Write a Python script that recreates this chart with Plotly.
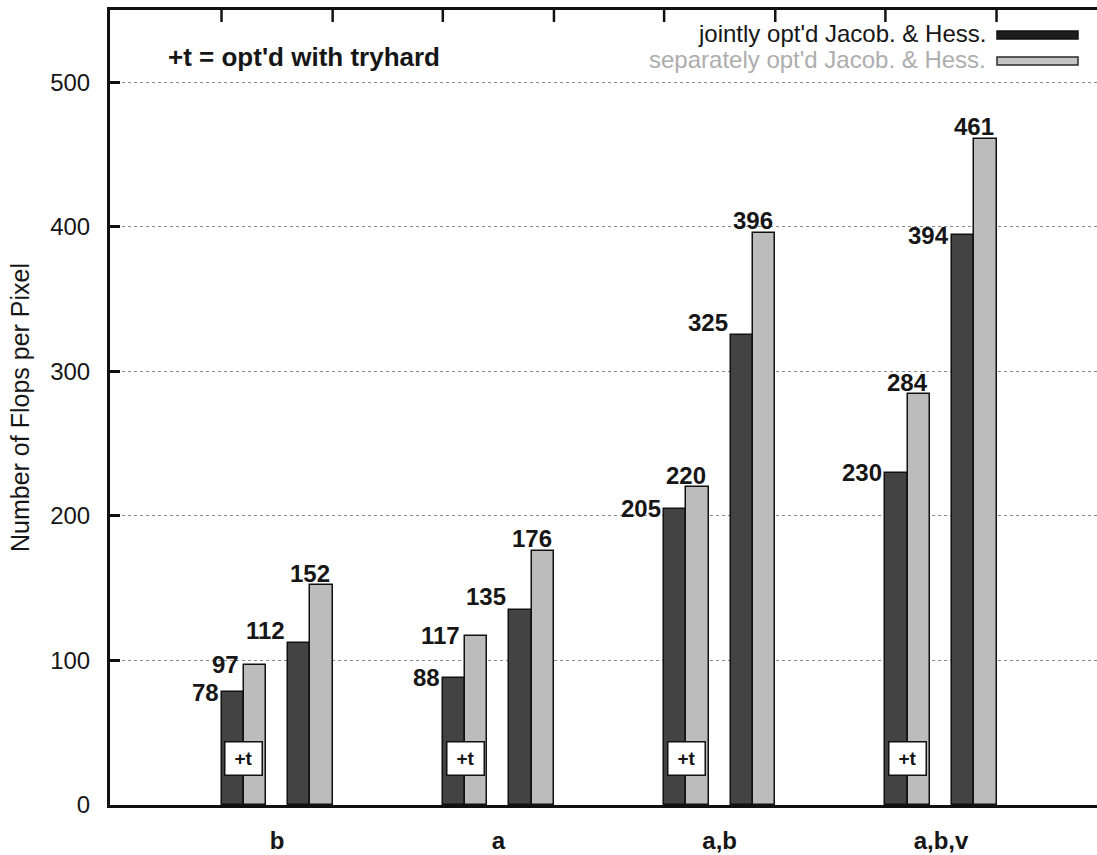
import plotly.graph_objects as go

# ---------------- data ----------------
categories = ["b", "a", "a,b", "a,b,v"]
joint_tryhard = [78, 88, 205, 230]
separate_tryhard = [97, 117, 220, 284]
joint_plain = [112, 135, 325, 394]
separate_plain = [152, 176, 396, 461]
y_ticks = [0, 100, 200, 300, 400, 500]

series_names = ["jointly opt'd Jacob. & Hess.", "separately opt'd Jacob. & Hess."]
tryhard_tag = "+t"
note_text = "+t = opt'd with tryhard"
y_title = "Number of Flops per Pixel"

# ---------------- layout / style ----------------
W, H = 1097, 855
ML, MR, MT, MB = 110, 0, 10, 50
XR = [-0.755, 3.705]
YR = [0, 550]
PAIR_OFF = 0.1503     # pair centre offset from group centre
BW = 0.1008           # bar width
DARK = "#434343"
LIGHT = "#bcbcbc"
FONT = "Liberation Sans, Arial, Helvetica, sans-serif"
TXT = "#161616"

# label placement codes: L = left of bar edge, U = centred on edge above top
dark_t_place = ["L", "L", "L", "L"]
light_t_place = ["L", "L", "U", "U"]
dark_p_place = ["LU", "LU", "LU", "L"]
light_p_place = ["U", "U", "U", "U"]

idx = list(range(len(categories)))

fig = go.Figure()

def add_bars(vals, offset, color, name):
    fig.add_trace(go.Bar(
        x=[i + offset for i in idx], y=vals, width=BW, name=name,
        marker=dict(color=color, line=dict(color="#111111", width=1.5)),
        showlegend=False, hoverinfo="y"))

add_bars(joint_tryhard, -PAIR_OFF - BW / 2, DARK, series_names[0])
add_bars(separate_tryhard, -PAIR_OFF + BW / 2, LIGHT, series_names[1])
add_bars(joint_plain, PAIR_OFF - BW / 2, DARK, series_names[0])
add_bars(separate_plain, PAIR_OFF + BW / 2, LIGHT, series_names[1])

annots = []
lab_font = dict(family=FONT, size=24, color=TXT)

def dark_label(vals, pair_c, places):
    for i, v, p in zip(idx, vals, places):
        annots.append(dict(x=i + pair_c - BW, y=v, xref="x", yref="y", text=f"<b>{v}</b>",
                           showarrow=False, xanchor="right", yanchor="middle",
                           xshift=-1, yshift=(13 if p == "LU" else 0), font=lab_font))

def light_label(vals, pair_c, places):
    for i, v, p in zip(idx, vals, places):
        if p == "U":
            annots.append(dict(x=i + pair_c, y=v, xref="x", yref="y", text=f"<b>{v}</b>",
                               showarrow=False, xanchor="center", yanchor="middle",
                               yshift=12, font=lab_font))
        else:
            annots.append(dict(x=i + pair_c, y=v, xref="x", yref="y", text=f"<b>{v}</b>",
                               showarrow=False, xanchor="right", yanchor="middle",
                               xshift=-3, font=lab_font))

dark_label(joint_tryhard, -PAIR_OFF, dark_t_place)
light_label(separate_tryhard, -PAIR_OFF, light_t_place)
dark_label(joint_plain, PAIR_OFF, dark_p_place)
light_label(separate_plain, PAIR_OFF, light_p_place)

# "+t" boxes
for i in idx:
    annots.append(dict(x=i - PAIR_OFF, y=0, xref="x", yref="y", text=f"<b>{tryhard_tag}</b>",
                       showarrow=False, xanchor="center", yanchor="bottom", yshift=29,
                       width=26, height=22, borderpad=5, bgcolor="white",
                       bordercolor="#111111", borderwidth=1.5,
                       font=dict(family=FONT, size=19, color=TXT)))

def px(xp):
    return (xp - ML) / (W - ML - MR)

def py(yp):
    return (H - MB - yp) / (H - MT - MB)

# note text
annots.append(dict(x=px(166), y=py(57), xref="paper", yref="paper", text=f"<b>{note_text}</b>",
                   showarrow=False, xanchor="left", yanchor="middle",
                   font=dict(family=FONT, size=26, color=TXT)))

# manual legend (text left of sample line)
annots.append(dict(x=px(988), y=py(34), xref="paper", yref="paper", text=series_names[0],
                   showarrow=False, xanchor="right", yanchor="middle",
                   font=dict(family=FONT, size=24, color=TXT)))
annots.append(dict(x=px(988), y=py(60), xref="paper", yref="paper", text=series_names[1],
                   showarrow=False, xanchor="right", yanchor="middle",
                   font=dict(family=FONT, size=24, color="#adadad")))

shapes = [
    dict(type="rect", xref="paper", yref="paper", x0=px(997), x1=px(1078), y0=py(39), y1=py(31),
         fillcolor="#1e1e1e", line=dict(color="#111111", width=1.5)),
    dict(type="rect", xref="paper", yref="paper", x0=px(997), x1=px(1078), y0=py(65), y1=py(57),
         fillcolor="#c4c4c4", line=dict(color="#2a2a2a", width=1.5)),
]

# top-border tick marks (mirror x tics at the outer bar edges of each group)
for i in idx:
    for t in (i - PAIR_OFF - BW, i + PAIR_OFF + BW):
        shapes.append(dict(type="line", xref="x", yref="paper", x0=t, x1=t,
                           y0=1, y1=1 - 12 / (H - MT - MB),
                           line=dict(color="#111111", width=2.5)))

fig.update_layout(
    width=W, height=H,
    margin=dict(l=ML, r=MR, t=MT, b=MB, pad=0),
    paper_bgcolor="white", plot_bgcolor="white",
    barmode="overlay", bargap=0,
    showlegend=False,
    annotations=annots, shapes=shapes,
    font=dict(family=FONT, color=TXT),
    xaxis=dict(range=XR, tickvals=idx, ticktext=[f"<b>{c}</b>" for c in categories],
               ticks="", showgrid=False, zeroline=False, mirror=True,
               showline=True, linecolor="#111111", linewidth=3,
               tickfont=dict(family=FONT, size=24, color=TXT), ticklabelstandoff=12),
    yaxis=dict(range=YR, tickvals=y_ticks, ticks="inside", ticklen=10, tickwidth=2.5,
               tickcolor="#111111", showline=True, linecolor="#111111", linewidth=3,
               showgrid=True, gridcolor="#8a8a8a", griddash="dot", gridwidth=1,
               zeroline=False, tickfont=dict(family=FONT, size=24, color=TXT),
               ticklabelstandoff=12,
               title=dict(text=y_title, font=dict(family=FONT, size=25, color=TXT), standoff=14)),
)

fig.write_html("out.html", config={"displayModeBar": False},
               post_script="document.body.style.margin='0';document.body.style.overflow='hidden';")
